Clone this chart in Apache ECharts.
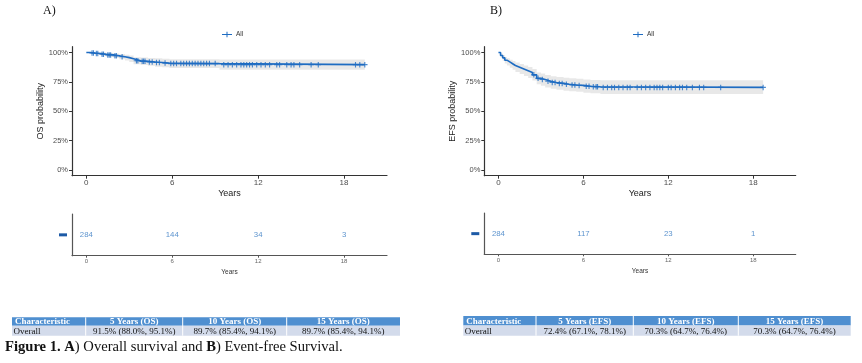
<!DOCTYPE html>
<html><head><meta charset="utf-8">
<script src="https://cdn.jsdelivr.net/npm/echarts@6/dist/echarts.min.js"></script>
<style>html,body{margin:0;padding:0;background:#fff}#c{width:862px;height:363px}</style>
</head><body><div id="c"></div>
<script>
// ---- data ----
const xTicks = [0, 6, 12, 18];
const yTicks = [0, 0.25, 0.5, 0.75, 1];

const osTime  = [0, 0.3, 0.6, 1.0, 1.4, 1.9, 2.3, 2.7, 3.0, 3.3, 3.8, 4.3, 4.8, 5.3, 5.8, 9.3, 19.45];
const osSurv  = [1.0, 0.996, 0.992, 0.986, 0.980, 0.973, 0.965, 0.957, 0.947, 0.930, 0.925, 0.920, 0.915, 0.910, 0.906, 0.897, 0.897];
const osLower = [1.0, 0.988, 0.981, 0.972, 0.963, 0.953, 0.943, 0.933, 0.920, 0.900, 0.894, 0.888, 0.880, 0.874, 0.869, 0.854, 0.854];
const osUpper = [1.0, 1.0, 1.0, 1.0, 0.997, 0.993, 0.988, 0.982, 0.974, 0.961, 0.957, 0.953, 0.951, 0.947, 0.944, 0.941, 0.941];
const osCensor = [[0.4,0.996],[0.5,0.996],[0.7,0.992],[0.8,0.992],[1.1,0.986],[1.2,0.986],[1.5,0.980],[1.6,0.980],[1.7,0.980],[2.0,0.973],[2.1,0.973],[2.5,0.965],[3.5,0.930],[3.6,0.930],[3.9,0.925],[4.0,0.925],[4.1,0.925],[4.4,0.920],[4.6,0.920],[4.9,0.915],[5.1,0.915],[5.5,0.910],[5.9,0.906],[6.1,0.906],[6.3,0.906],[6.6,0.906],[6.8,0.906],[7.0,0.906],[7.2,0.906],[7.4,0.906],[7.6,0.906],[7.8,0.906],[8.0,0.906],[8.2,0.906],[8.4,0.906],[8.6,0.906],[9.0,0.906],[9.6,0.897],[9.9,0.897],[10.2,0.897],[10.5,0.897],[10.8,0.897],[11.0,0.897],[11.2,0.897],[11.4,0.897],[11.6,0.897],[11.9,0.897],[12.2,0.897],[12.5,0.897],[12.8,0.897],[13.3,0.897],[13.5,0.897],[14.0,0.897],[14.3,0.897],[14.5,0.897],[14.9,0.897],[15.7,0.897],[16.2,0.897],[18.8,0.897],[19.1,0.897],[19.45,0.897]];

const efsTime  = [0, 0.15, 0.3, 0.45, 0.6, 0.8, 1.0, 1.2, 1.5, 1.8, 2.1, 2.4, 2.7, 3.0, 3.3, 3.7, 4.1, 4.6, 5.0, 5.5, 6.0, 6.5, 7.2, 18.7];
const efsSurv  = [1.0, 0.975, 0.955, 0.935, 0.920, 0.905, 0.890, 0.875, 0.860, 0.845, 0.830, 0.810, 0.780, 0.770, 0.755, 0.745, 0.737, 0.730, 0.724, 0.720, 0.713, 0.708, 0.703, 0.703];
const efsLower = [1.0, 0.957, 0.931, 0.907, 0.889, 0.871, 0.853, 0.835, 0.817, 0.800, 0.783, 0.761, 0.729, 0.718, 0.702, 0.691, 0.682, 0.675, 0.671, 0.666, 0.658, 0.652, 0.647, 0.647];
const efsUpper = [1.0, 0.993, 0.979, 0.963, 0.951, 0.939, 0.927, 0.915, 0.903, 0.890, 0.877, 0.859, 0.831, 0.822, 0.808, 0.799, 0.792, 0.785, 0.781, 0.777, 0.771, 0.766, 0.764, 0.764];
const efsCensor = [[2.5,0.810],[2.8,0.780],[3.1,0.770],[3.5,0.755],[3.8,0.745],[4.0,0.745],[4.3,0.737],[4.5,0.737],[4.8,0.730],[5.2,0.724],[5.4,0.724],[5.7,0.720],[6.2,0.713],[6.4,0.713],[6.7,0.708],[6.9,0.708],[7.0,0.708],[7.4,0.703],[7.7,0.703],[8.0,0.703],[8.2,0.703],[8.5,0.703],[8.8,0.703],[9.1,0.703],[9.3,0.703],[9.8,0.703],[10.1,0.703],[10.4,0.703],[10.7,0.703],[11.0,0.703],[11.2,0.703],[11.4,0.703],[11.6,0.703],[12.0,0.703],[12.2,0.703],[12.5,0.703],[12.8,0.703],[13.0,0.703],[13.3,0.703],[13.7,0.703],[14.2,0.703],[14.5,0.703],[15.7,0.703],[18.7,0.703]];

const riskTimes = [0, 6, 12, 18];
const osRisk  = [284, 144, 34, 3];
const efsRisk = [284, 117, 23, 1];

const osTableHeader  = ['Characteristic', '5 Years (OS)', '10 Years (OS)', '15 Years (OS)'];
const osTableRow     = ['Overall', '91.5% (88.0%, 95.1%)', '89.7% (85.4%, 94.1%)', '89.7% (85.4%, 94.1%)'];
const efsTableHeader = ['Characteristic', '5 Years (EFS)', '10 Years (EFS)', '15 Years (EFS)'];
const efsTableRow    = ['Overall', '72.4% (67.1%, 78.1%)', '70.3% (64.7%, 76.4%)', '70.3% (64.7%, 76.4%)'];

const panelLabels = ['A)', 'B)'];
const yNames = ['OS probability', 'EFS probability'];
const captionText = '{b|Figure 1. A}) Overall survival and {b|B}) Event-free Survival.';

// ---- styles ----
const BLUE = '#1e6cc2';
const SANS = 'Liberation Sans';
const SERIF = 'Liberation Serif';
const PLUS = 'path://M0,4H10V6H0Z M4,0H6V10H4Z';

function mainX(idx) {
  return {
    type: 'value', gridIndex: idx, min: -1, max: 21,
    splitLine: {show: false},
    axisLine: {show: true, onZero: false, lineStyle: {color: '#333', width: 1.2}},
    axisTick: {show: true, customValues: xTicks, length: 3, lineStyle: {color: '#333'}},
    axisLabel: {customValues: xTicks, fontSize: 8, color: '#4d4d4d', margin: 3, fontFamily: SANS},
    name: 'Years', nameLocation: 'middle', nameGap: 13,
    nameTextStyle: {fontSize: 9, color: '#222', fontFamily: SANS}
  };
}
function mainY(idx, name, gap) {
  return {
    type: 'value', gridIndex: idx, min: -0.05, max: 1.05,
    splitLine: {show: false},
    axisLine: {show: true, onZero: false, lineStyle: {color: '#333', width: 1.2}},
    axisTick: {show: true, customValues: yTicks, length: 3, lineStyle: {color: '#333'}},
    axisLabel: {customValues: yTicks, fontSize: 7.5, color: '#4d4d4d', margin: 4, fontFamily: SANS,
      formatter: v => Math.round(v * 100) + '%'},
    name: name, nameLocation: 'middle', nameGap: gap, nameRotate: 90,
    nameTextStyle: {fontSize: 9, color: '#222', fontFamily: SANS}
  };
}
function riskX(idx) {
  return {
    type: 'value', gridIndex: idx, min: -1, max: 21,
    splitLine: {show: false},
    axisLine: {show: true, onZero: false, lineStyle: {color: '#555', width: 1.2}},
    axisTick: {show: true, customValues: xTicks, length: 2, lineStyle: {color: '#555'}},
    axisLabel: {customValues: xTicks, fontSize: 6, color: '#666', margin: 3, fontFamily: SANS},
    name: 'Years', nameLocation: 'middle', nameGap: 13,
    nameTextStyle: {fontSize: 6.5, color: '#333', fontFamily: SANS}
  };
}
function riskY(idx) {
  return {
    type: 'category', gridIndex: idx, data: ['All'],
    axisLine: {show: true, onZero: false, lineStyle: {color: '#555', width: 1.2}},
    axisTick: {show: false},
    axisLabel: {margin: 5, formatter: () => '{d|}', rich: {d: {width: 8, height: 3, backgroundColor: '#1d5aa6'}}}
  };
}
function bandSeries(idx, t, lo, hi) {
  return {
    type: 'custom', xAxisIndex: idx, yAxisIndex: idx, silent: true, z: 1,
    data: [[t[0], lo[0]]],
    renderItem: (params, api) => {
      const upperPts = [], lowerPts = [];
      for (let i = 0; i < t.length; i++) {
        const tNext = i < t.length - 1 ? t[i + 1] : t[i];
        upperPts.push(api.coord([t[i], hi[i]]), api.coord([tNext, hi[i]]));
        lowerPts.push(api.coord([t[i], lo[i]]), api.coord([tNext, lo[i]]));
      }
      return {type: 'polygon', shape: {points: upperPts.concat(lowerPts.reverse())},
        style: {fill: 'rgba(200,200,200,0.42)'}};
    }
  };
}
function kmSeries(idx, t, s, lo, hi, cens, key) {
  return [
    bandSeries(idx, t, lo, hi),
    {name: 'All', type: 'line', xAxisIndex: idx, yAxisIndex: idx, step: 'end', symbol: 'none',
     lineStyle: {color: BLUE, width: 1.6}, itemStyle: {color: BLUE}, z: 3,
     data: t.map((x, i) => [x, s[i]])},
    {name: key + 'Censor', type: 'scatter', xAxisIndex: idx, yAxisIndex: idx, symbol: PLUS,
     symbolSize: 5.5, itemStyle: {color: BLUE}, z: 4, data: cens}
  ];
}
function riskSeries(idx, counts) {
  return {
    type: 'scatter', xAxisIndex: idx, yAxisIndex: idx, symbolSize: 1,
    itemStyle: {color: 'transparent'},
    label: {show: true, position: 'inside', formatter: p => String(p.value[2]),
      fontSize: 7.8, color: '#3479c2', fontFamily: SANS},
    data: riskTimes.map((t, i) => [t, 'All', counts[i]])
  };
}
function tableGraphic(edges, yTop, yMid, yBot, header, row) {
  const els = [];
  els.push({type: 'rect', shape: {x: edges[0], y: yTop, width: edges[edges.length - 1] - edges[0], height: yMid - yTop},
    style: {fill: '#4f8fd0'}});
  els.push({type: 'rect', shape: {x: edges[0], y: yMid, width: edges[edges.length - 1] - edges[0], height: yBot - yMid},
    style: {fill: '#d3dbeb'}});
  for (let i = 1; i < edges.length - 1; i++) {
    els.push({type: 'line', shape: {x1: edges[i], y1: yTop, x2: edges[i], y2: yBot}, style: {stroke: '#fff', lineWidth: 1}});
  }
  header.forEach((h, i) => {
    const left = i === 0;
    els.push({type: 'text', style: {text: h, x: left ? edges[0] + 3 : (edges[i] + edges[i + 1]) / 2,
      y: (yTop + yMid) / 2 + 0.5, align: left ? 'left' : 'center', verticalAlign: 'middle',
      fill: '#fff', font: 'bold 9px ' + SERIF}});
  });
  row.forEach((h, i) => {
    const left = i === 0;
    els.push({type: 'text', style: {text: h, x: left ? edges[0] + 1.5 : (edges[i] + edges[i + 1]) / 2,
      y: (yMid + yBot) / 2 + 0.5, align: left ? 'left' : 'center', verticalAlign: 'middle',
      fill: '#111', font: '9px ' + SERIF}});
  });
  return els;
}

const chart = echarts.init(document.getElementById('c'), null, {renderer: 'canvas'});
const legendBase = {
  data: ['All'], top: 26, itemWidth: 10, itemHeight: 6, itemGap: 4,
  icon: 'path://M0,4.3H14V5.7H0Z M6.3,1H7.7V9H6.3Z',
  textStyle: {fontSize: 6.5, color: '#333', fontFamily: SANS, padding: [0, 0, 0, -1]},
  selectedMode: false
};

chart.setOption({
  animation: false,
  backgroundColor: '#fff',
  textStyle: {fontFamily: SANS},
  legend: [Object.assign({left: 217}, legendBase), Object.assign({left: 628}, legendBase)],
  grid: [
    {left: 72, top: 46.7, width: 315, height: 129},
    {left: 484.3, top: 46.7, width: 311.4, height: 129},
    {left: 72, top: 214, width: 315, height: 41.7},
    {left: 484.3, top: 213, width: 311.4, height: 41.3}
  ],
  xAxis: [mainX(0), mainX(1), riskX(2), riskX(3)],
  yAxis: [mainY(0, yNames[0], 27), mainY(1, yNames[1], 23), riskY(2), riskY(3)],
  series: [
    ...kmSeries(0, osTime, osSurv, osLower, osUpper, osCensor, 'os'),
    ...kmSeries(1, efsTime, efsSurv, efsLower, efsUpper, efsCensor, 'efs'),
    riskSeries(2, osRisk),
    riskSeries(3, efsRisk)
  ],
  graphic: [
    {type: 'text', style: {text: panelLabels[0], x: 43, y: 11, verticalAlign: 'middle', font: '12px ' + SERIF, fill: '#111'}},
    {type: 'text', style: {text: panelLabels[1], x: 490, y: 11, verticalAlign: 'middle', font: '12px ' + SERIF, fill: '#111'}},
    ...tableGraphic([12, 85.7, 182.7, 286.7, 400], 317.3, 325.8, 335.7, osTableHeader, osTableRow),
    ...tableGraphic([463.3, 536, 633.3, 738.3, 850.7], 316, 325.6, 335.7, efsTableHeader, efsTableRow),
    {type: 'text', style: {text: captionText, x: 5, y: 347, verticalAlign: 'middle',
      font: '14.6px ' + SERIF, fill: '#111', rich: {b: {fontWeight: 'bold', fontSize: 14.6, fontFamily: SERIF}}}}
  ]
});
</script></body></html>
